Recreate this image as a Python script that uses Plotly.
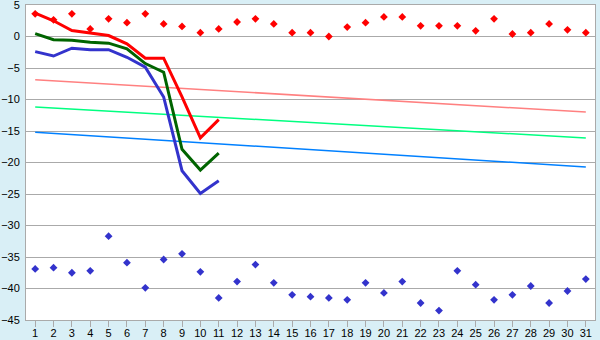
import plotly.graph_objects as go

days = list(range(1, 32))
line_days = list(range(1, 12))

red_line = [3.7, 2.5, 0.95, 0.6, 0.15, -1.16, -3.44, -3.44, -9.6, -16.1, -13.2]
green_line = [0.45, -0.5, -0.6, -0.9, -1.06, -1.95, -4.3, -5.67, -17.9, -21.2, -18.5]
blue_line = [-2.4, -3.1, -1.85, -2.1, -2.1, -3.3, -4.87, -9.6, -21.3, -24.9, -22.9]

red_points = [3.6, 2.65, 3.6, 1.2, 2.8, 2.2, 3.6, 2.0, 1.6, 0.6,
              1.2, 2.3, 2.8, 2.0, 0.6, 0.6, 0.0, 1.5, 2.2, 3.1,
              3.1, 1.7, 1.7, 1.7, 0.9, 2.8, 0.4, 0.6, 2.0, 1.06, 0.6]
blue_points = [-36.9, -36.7, -37.5, -37.2, -31.7, -35.9, -39.9, -35.4, -34.5, -37.35,
               -41.5, -38.9, -36.2, -39.1, -41.0, -41.3, -41.5, -41.8, -39.1, -40.7,
               -38.9, -42.3, -43.5, -37.2, -39.4, -41.8, -41.0, -39.6, -42.3, -40.4, -38.5]

trend_days = [1, 31]
trend_pink = [-6.87, -12.0]
trend_green = [-11.2, -16.1]
trend_blue = [-15.2, -20.7]

fig = go.Figure()
fig.add_trace(go.Scatter(x=trend_days, y=trend_pink, mode="lines",
                         line=dict(color="#FF8080", width=1.5)))
fig.add_trace(go.Scatter(x=trend_days, y=trend_green, mode="lines",
                         line=dict(color="#00FF80", width=1.5)))
fig.add_trace(go.Scatter(x=trend_days, y=trend_blue, mode="lines",
                         line=dict(color="#0080FF", width=1.5)))
fig.add_trace(go.Scatter(x=line_days, y=red_line, mode="lines",
                         line=dict(color="#FF0000", width=3)))
fig.add_trace(go.Scatter(x=line_days, y=green_line, mode="lines",
                         line=dict(color="#006400", width=3)))
fig.add_trace(go.Scatter(x=line_days, y=blue_line, mode="lines",
                         line=dict(color="#3333CC", width=3)))
fig.add_trace(go.Scatter(x=days, y=red_points, mode="markers",
                         marker=dict(color="#FF0000", symbol="diamond", size=6)))
fig.add_trace(go.Scatter(x=days, y=blue_points, mode="markers",
                         marker=dict(color="#3333CC", symbol="diamond", size=6)))

fig.update_layout(
    width=600, height=340,
    margin=dict(l=26, r=5, t=5, b=20),
    paper_bgcolor="#D9EFF6",
    plot_bgcolor="#FFFFFF",
    showlegend=False,
    font=dict(family="Liberation Sans, Arial, sans-serif", size=11, color="#000000"),
)
fig.update_xaxes(range=[0.5, 31.5], tickvals=days, showgrid=False,
                 showline=True, linecolor="#AAAAAA", linewidth=1, mirror=True,
                 ticks="outside", ticklen=6, tickcolor="#AAAAAA", zeroline=False,
                 tickfont=dict(size=11), ticklabelstandoff=-3,
                 ticklabeloverflow="allow", automargin=False)
fig.update_yaxes(range=[-45, 5], dtick=5, tick0=0, showgrid=True,
                 gridcolor="#AAAAAA", gridwidth=1,
                 showline=True, linecolor="#AAAAAA", linewidth=1, mirror=True,
                 ticks="", zeroline=False, ticklabelstandoff=3,
                 tickfont=dict(size=11),
                 ticklabeloverflow="allow", automargin=False)

fig.write_html("out.html")
